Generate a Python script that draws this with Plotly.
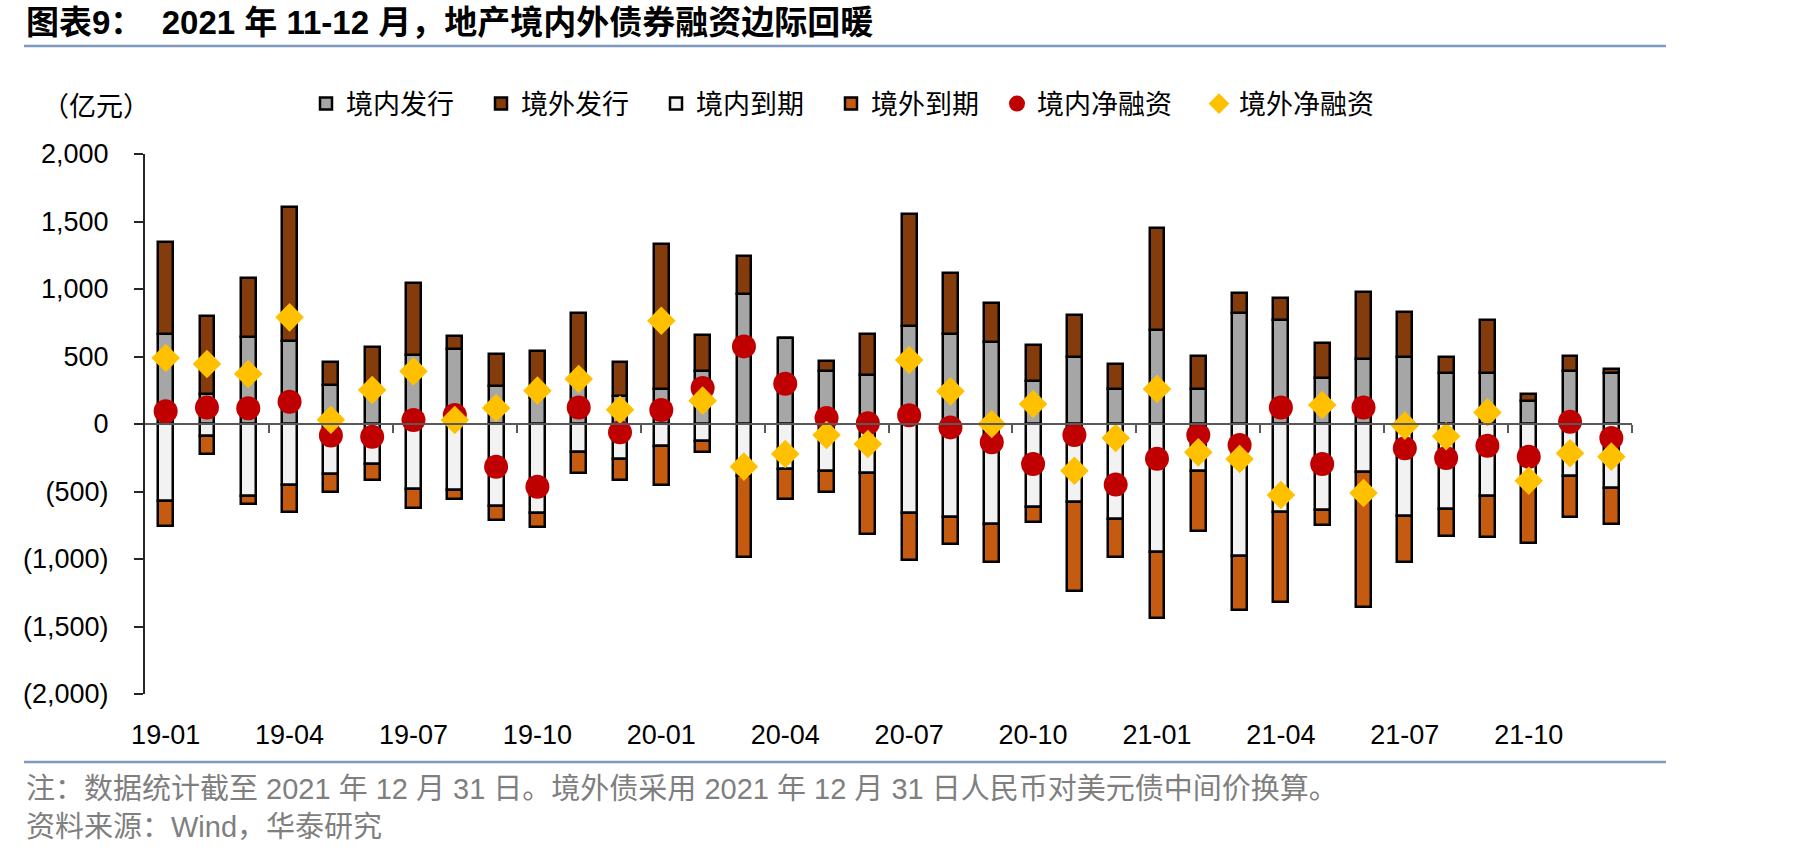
import numpy as np
import plotly.graph_objects as go

months = ["19-01", "19-02", "19-03", "19-04", "19-05", "19-06", "19-07", "19-08", "19-09", "19-10", "19-11", "19-12",
          "20-01", "20-02", "20-03", "20-04", "20-05", "20-06", "20-07", "20-08", "20-09", "20-10", "20-11", "20-12",
          "21-01", "21-02", "21-03", "21-04", "21-05", "21-06", "21-07", "21-08", "21-09", "21-10", "21-11", "21-12"]

# 亿元
domestic_issue = [667, 222, 642, 617, 289, 197, 514, 556, 284, 195, 333, 205,
                  257, 393, 963, 635, 393, 363, 723, 667, 610, 318, 494, 259,
                  696, 259, 822, 770, 341, 481, 494, 378, 375, 168, 390, 375]
overseas_issue = [679, 575, 437, 993, 168, 371, 528, 93, 234, 348, 487, 254,
                  1074, 266, 281, 0, 74, 304, 832, 449, 284, 267, 313, 185,
                  756, 242, 146, 161, 256, 494, 333, 116, 398, 54, 111, 30]
domestic_mature = [-573, -86, -531, -452, -370, -296, -481, -489, -610, -659, -210, -259,
                   -160, -123, -388, -333, -346, -363, -662, -691, -741, -617, -580, -704,
                   -951, -346, -980, -654, -637, -353, -679, -630, -536, -410, -383, -477]
overseas_mature = [-180, -136, -62, -202, -136, -119, -141, -67, -101, -101, -153, -153,
                   -292, -87, -595, -222, -156, -452, -346, -198, -284, -106, -655, -279,
                   -486, -444, -398, -667, -109, -1005, -341, -197, -299, -471, -308, -264]
domestic_net = [94, 123, 116, 165, -86, -94, 30, 67, -316, -464, 123, -62,
                104, 267, 575, 299, 44, 5, 64, -25, -136, -296, -81, -449,
                -257, -81, -156, 123, -296, 123, -180, -252, -161, -242, 17, -104]
overseas_net = [489, 444, 370, 790, 32, 252, 390, 30, 118, 247, 333, 106,
                765, 173, -316, -222, -81, -148, 474, 242, 0, 148, -346, -104,
                259, -210, -259, -526, 141, -511, -12, -91, 86, -420, -217, -242]

x_tick_labels = ["19-01", "19-04", "19-07", "19-10", "20-01", "20-04",
                 "20-07", "20-10", "21-01", "21-04", "21-07", "21-10"]
y_tick_values = [2000, 1500, 1000, 500, 0, -500, -1000, -1500, -2000]
y_tick_labels = ["2,000", "1,500", "1,000", "500", "0", "(500)", "(1,000)", "(1,500)", "(2,000)"]

title_text = "图表9：  2021 年 11-12 月，地产境内外债券融资边际回暖"
unit_text = "（亿元）"
note_text = "注：数据统计截至 2021 年 12 月 31 日。境外债采用 2021 年 12 月 31 日人民币对美元债中间价换算。"
source_text = "资料来源：Wind，华泰研究"

x = np.arange(len(months))
tick_pos = [months.index(m) for m in x_tick_labels]
boundaries = np.arange(2.5, len(months), 3)

W, H = 1819, 858
ML, MR, MT, MB = 145, 187, 154, 164
PW, PH = W - ML - MR, H - MT - MB


def px_x(p):
    return (p - ML) / PW


def px_y(p):
    return (H - MB - p) / PH


CJK = "Noto Sans CJK SC"
LAT = "Liberation Sans, Arial"
MIX = "Liberation Sans, Noto Sans CJK SC"

fig = go.Figure()
bar_style = dict(width=0.36, marker_line_color="#000000", marker_line_width=2.5, legend="legend")
fig.add_trace(go.Bar(x=x, y=domestic_issue, name="境内发行", marker_color="#A6A6A6", **bar_style))
fig.add_trace(go.Bar(x=x, y=overseas_issue, name="境外发行", marker_color="#843C0C", **bar_style))
fig.add_trace(go.Bar(x=x, y=domestic_mature, name="境内到期", marker_color="#F2F2F2", **bar_style))
fig.add_trace(go.Bar(x=x, y=overseas_mature, name="境外到期", marker_color="#C55A11", **bar_style))
fig.add_trace(go.Scatter(x=x, y=domestic_net, name="境内净融资", mode="markers", xaxis="x2", legend="legend2",
                         marker=dict(symbol="circle", size=24, color="#C00000", line_width=0)))
fig.add_trace(go.Scatter(x=x, y=overseas_net, name="境外净融资", mode="markers", xaxis="x2", legend="legend2",
                         marker=dict(symbol="diamond", size=22, color="#FFC000", line_width=0)))

legend_common = dict(orientation="h", xanchor="left", y=px_y(104), yanchor="middle",
                     font=dict(family=CJK, size=27, color="#000000"),
                     traceorder="normal", itemsizing="trace", bgcolor="rgba(0,0,0,0)")

xr = [-0.5, len(months) - 0.5]
fig.update_layout(
    width=W, height=H,
    margin=dict(l=ML, r=MR, t=MT, b=MB),
    paper_bgcolor="white", plot_bgcolor="white",
    barmode="relative", bargap=0,
    showlegend=True,
    legend=dict(x=px_x(306), entrywidth=130, **legend_common),
    legend2=dict(x=px_x(997), entrywidth=157, **legend_common),
    xaxis=dict(range=xr, tickvals=tick_pos, ticktext=x_tick_labels, ticks="", showline=False,
               showgrid=False, zeroline=False, ticklabelstandoff=22,
               tickfont=dict(family=LAT, size=27, color="#000000")),
    xaxis2=dict(range=xr, overlaying="x", anchor="free", position=0.5, side="bottom",
                showline=True, linecolor="#595959", linewidth=2,
                tickvals=boundaries, ticks="outside", ticklen=8, tickwidth=2, tickcolor="#595959",
                showticklabels=False, showgrid=False, zeroline=False),
    yaxis=dict(range=[-2000, 2000], tickvals=y_tick_values, ticktext=y_tick_labels,
               showline=True, linecolor="#262626", linewidth=2, ticks="outside", ticklen=9,
               tickwidth=2, tickcolor="#262626", showgrid=False, zeroline=False,
               ticklabelstandoff=20, tickfont=dict(family=LAT, size=27, color="#000000")),
    font=dict(family=CJK),
)

fig.add_annotation(text="<b>" + title_text + "</b>", xref="paper", yref="paper",
                   x=px_x(24), y=px_y(23), xanchor="left", yanchor="middle", showarrow=False,
                   font=dict(family=MIX, size=33, color="#000000"))
fig.add_annotation(text=unit_text, xref="paper", yref="paper",
                   x=px_x(40), y=px_y(104), xanchor="left", yanchor="middle", showarrow=False,
                   font=dict(family=CJK, size=27, color="#000000"))
fig.add_annotation(text=note_text, xref="paper", yref="paper",
                   x=px_x(24), y=px_y(789), xanchor="left", yanchor="middle", showarrow=False,
                   font=dict(family=MIX, size=29, color="#7F7F7F"))
fig.add_annotation(text=source_text, xref="paper", yref="paper",
                   x=px_x(24), y=px_y(827), xanchor="left", yanchor="middle", showarrow=False,
                   font=dict(family=MIX, size=29, color="#7F7F7F"))

for yy in (46, 762):
    fig.add_shape(type="line", xref="paper", yref="paper", x0=px_x(24), x1=px_x(1666),
                  y0=px_y(yy), y1=px_y(yy), line=dict(color="#7F9AC0", width=2.5))

fig.write_html("out.html")
